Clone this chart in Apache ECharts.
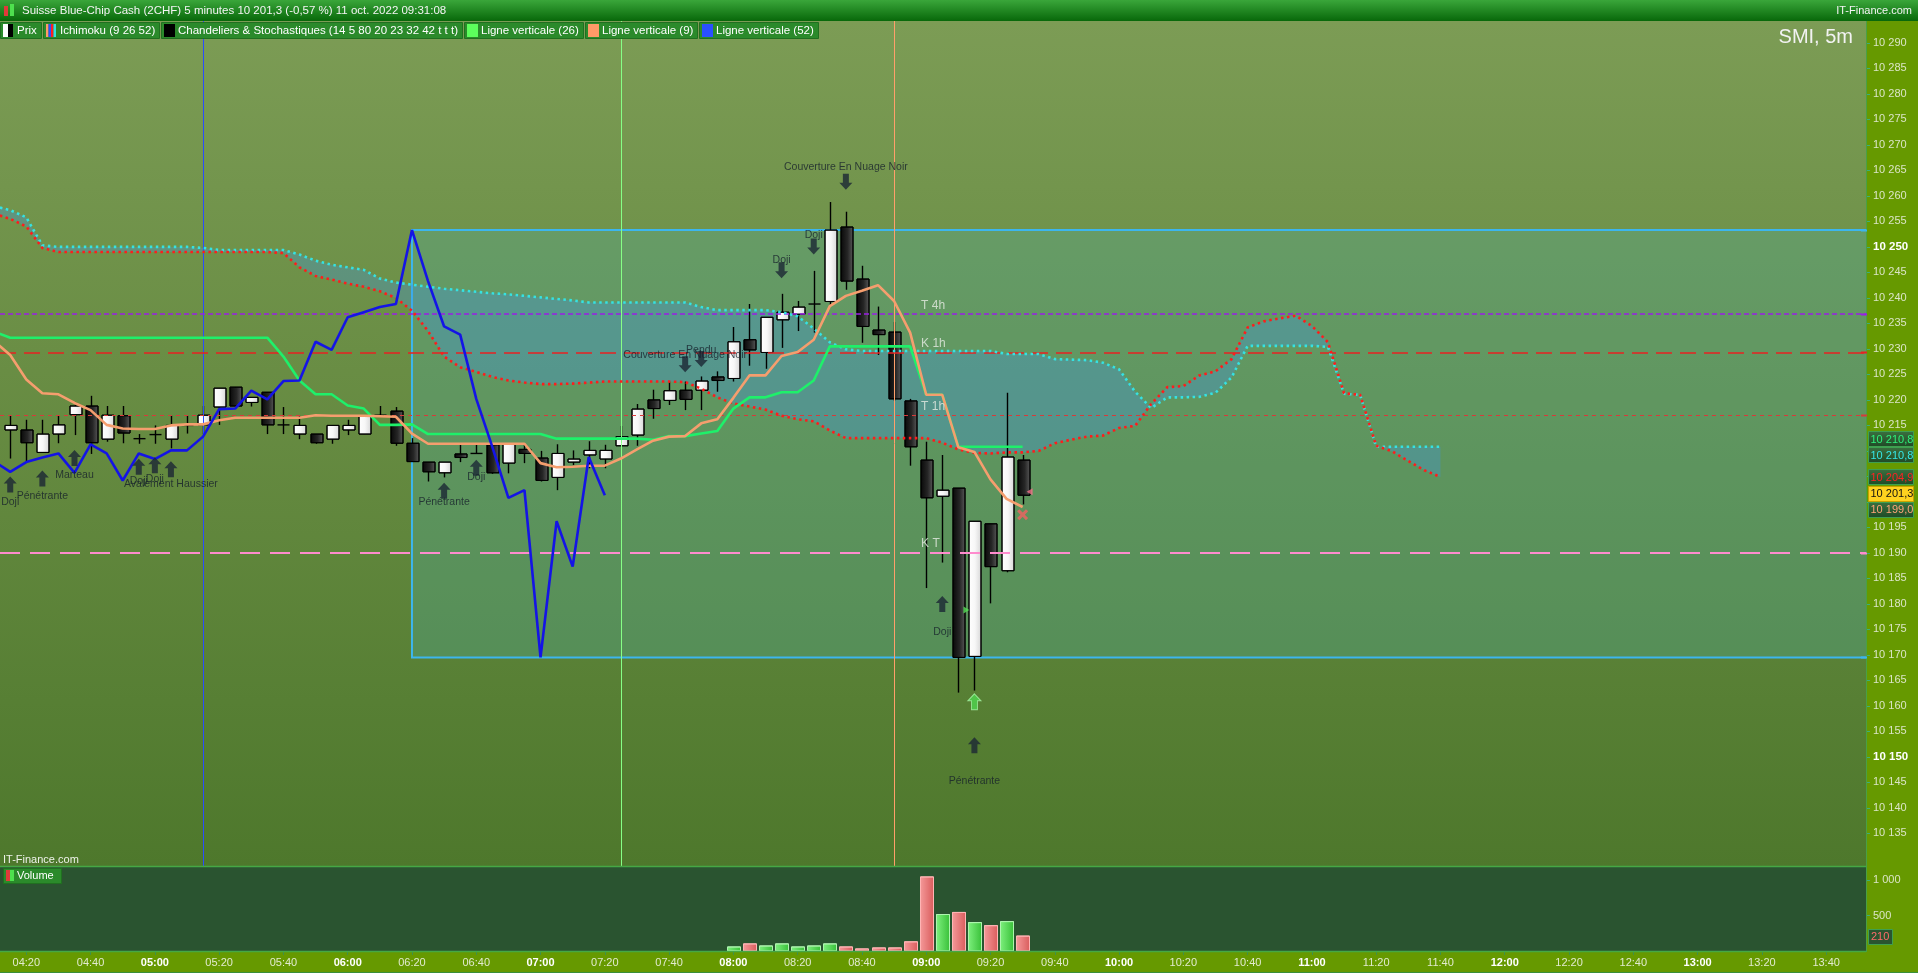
<!DOCTYPE html>
<html><head><meta charset="utf-8">
<script src="https://cdn.jsdelivr.net/npm/echarts@6/dist/echarts.min.js"></script>
<style>html,body{margin:0;padding:0;background:#669900;overflow:hidden}#c{width:1918px;height:973px}</style>
</head><body><div id="c"></div><script>
// ---------------- DATA ----------------
const candleStart = "04:15";
const opens = [10214.1,10214.1,10209.7,10213.3,10217.1,10218.8,10212.3,10216.9,10212.4,10213.2,
 10212.3,10215.0,10215.1,10218.6,10222.5,10219.5,10221.5,10215.1,10213.3,10213.3,
 10212.3,10214.1,10213.3,10217.0,10217.8,10211.5,10207.8,10205.7,10209.4,10209.5,
 10211.2,10207.6,10210.3,10208.6,10204.8,10207.8,10209.2,10208.4,10211.0,10213.1,
 10220.0,10219.9,10221.9,10221.9,10224.5,10224.2,10231.8,10229.3,10235.7,10236.8,
 10238.8,10239.3,10253.9,10243.7,10233.7,10233.3,10219.8,10208.2,10201.1,10202.7,
 10169.7,10195.7,10186.5,10208.2];
const highs = [10216.9,10216.1,10216.1,10216.9,10219.5,10220.8,10218.8,10218.8,10213.3,10215.0,
 10216.9,10216.9,10218.8,10222.3,10222.5,10220.5,10221.5,10218.6,10216.9,10213.3,
 10215.0,10216.1,10216.9,10218.8,10218.6,10212.5,10207.8,10207.8,10211.2,10211.2,
 10211.2,10211.3,10211.2,10210.0,10211.3,10210.1,10211.9,10211.2,10214.9,10219.2,
 10222.0,10223.6,10223.6,10224.6,10225.6,10234.3,10238.8,10236.2,10240.8,10239.4,
 10245.3,10258.8,10256.9,10246.3,10238.3,10235.3,10220.2,10211.8,10209.2,10202.7,
 10196.2,10195.7,10221.4,10209.2];
const lows = [10208.5,10207.9,10209.7,10211.5,10213.1,10209.4,10211.8,10211.5,10211.4,10211.4,
 10210.5,10213.4,10213.3,10215.1,10218.8,10218.7,10213.3,10213.3,10212.3,10211.4,
 10211.4,10213.1,10213.3,10216.9,10211.0,10207.9,10204.0,10204.8,10207.8,10209.4,
 10205.5,10205.6,10207.6,10204.0,10202.3,10207.2,10206.6,10206.6,10211.0,10211.0,
 10216.3,10219.0,10218.0,10218.0,10221.6,10223.6,10226.7,10226.1,10230.2,10233.5,
 10233.2,10238.6,10241.6,10231.2,10228.8,10219.8,10207.1,10183.1,10188.1,10162.6,
 10163.0,10180.1,10186.2,10199.5];
const closes = [10215.0,10211.6,10213.3,10215.1,10218.8,10211.6,10217.0,10213.5,10212.4,10213.2,
 10215.0,10215.0,10217.0,10222.3,10218.8,10220.5,10215.1,10215.1,10215.0,10211.6,
 10215.0,10215.0,10216.9,10217.0,10211.5,10207.9,10205.9,10207.8,10208.7,10209.5,
 10205.7,10211.3,10209.5,10204.2,10209.5,10208.4,10210.1,10210.1,10212.8,10218.2,
 10218.3,10221.8,10220.1,10223.7,10223.8,10231.4,10229.8,10236.2,10237.2,10238.2,
 10238.8,10253.3,10243.3,10234.4,10232.8,10220.2,10210.8,10200.8,10202.3,10169.5,
 10196.2,10187.3,10208.8,10201.3];

const volumeStart = "08:00";
const volumes = [57,100,71,100,57,71,100,57,29,43,43,129,1043,514,543,400,357,414,210];

const lineStart = "04:10";
const tenkan = [10231.5,10228.8,10224.0,10221.3,10221.1,10219.4,10218.0,10215.1,10214.4,10214.3,
 10214.3,10215.0,10215.2,10215.2,10216.0,10216.5,10216.5,10216.5,10216.5,10216.5,
 10217.0,10216.9,10216.9,10216.9,10216.8,10216.7,10213.4,10211.4,10211.4,10211.4,
 10211.4,10211.4,10211.4,10211.4,10207.6,10206.8,10206.9,10207.1,10207.1,10208.5,
 10210.3,10212.0,10212.8,10212.9,10215.4,10216.2,10220.4,10224.8,10224.8,10228.6,
 10229.4,10231.8,10238.4,10240.4,10241.4,10242.5,10239.4,10233.2,10221.0,10221.0,
 10210.7,10209.8,10204.4,10200.6,10199.0];
const kijun = [10233.4,10232.2,10232.2,10232.2,10232.2,10232.2,10232.2,10232.2,10232.2,10232.2,
 10232.2,10232.2,10232.2,10232.2,10232.2,10232.2,10232.2,10232.2,10228.5,10223.8,
 10221.1,10221.1,10218.9,10218.3,10215.1,10215.1,10215.2,10213.3,10213.3,10213.3,
 10213.3,10213.3,10213.3,10213.3,10213.3,10212.4,10212.4,10212.4,10212.4,10212.4,
 10212.4,10212.2,10212.9,10212.9,10213.4,10213.9,10218.3,10220.5,10220.5,10221.5,
 10221.5,10223.8,10230.5,10230.5,10230.5,10230.5,10230.5,10230.5,10221.0,10221.0,
 10210.8,10210.8,10210.8,10210.8,10210.8];
const chikou = [10207.9,10205.9,10207.8,10208.7,10209.5,10205.7,10211.3,10209.5,10204.2,10209.5,
 10208.4,10210.1,10210.1,10212.8,10218.2,10218.3,10221.8,10220.1,10223.7,10223.8,
 10231.4,10229.8,10236.2,10237.2,10238.2,10238.8,10253.3,10243.3,10234.4,10232.8,
 10220.2,10210.8,10200.8,10202.3,10169.5,10196.2,10187.3,10208.8,10201.3];
const senkouA = [10256.5,10255.5,10254.0,10249.8,10249.0,10249.0,10249.0,10249.0,10249.0,10249.0,
 10249.0,10249.0,10249.0,10249.0,10249.0,10249.0,10249.0,10249.0,10248.8,10246.0,
 10244.3,10243.6,10242.8,10242.2,10241.3,10240.0,10237.5,10233.5,10228.5,10226.4,
 10225.5,10224.5,10223.8,10223.4,10223.1,10223.1,10223.2,10223.4,10223.6,10223.6,
 10223.6,10223.6,10223.6,10223.5,10222.2,10220.5,10219.3,10218.7,10218.1,10216.9,
 10216.2,10215.8,10214.0,10212.5,10212.5,10212.5,10212.5,10212.5,10212.5,10211.6,
 10210.3,10209.6,10209.5,10209.7,10209.7,10210.0,10211.5,10212.2,10212.8,10213.0,
 10214.5,10214.9,10219.2,10222.5,10222.7,10224.8,10225.6,10228.0,10234.2,10235.4,
 10236.0,10236.5,10234.5,10231.3,10221.3,10221.0,10211.0,10209.9,10208.0,10206.2,
 10204.9];
const senkouB = [10258.0,10257.2,10255.8,10250.3,10250.0,10250.0,10250.0,10250.0,10250.0,10250.0,
 10250.0,10250.0,10250.0,10249.8,10249.4,10249.4,10249.4,10249.4,10249.4,10248.5,
 10247.3,10246.5,10246.0,10245.5,10243.8,10243.0,10242.6,10242.2,10241.8,10241.5,
 10241.2,10240.9,10240.7,10240.4,10240.1,10239.8,10239.5,10239.1,10239.1,10239.1,
 10239.1,10239.1,10239.1,10239.1,10238.2,10237.6,10237.6,10237.6,10237.6,10237.2,
 10236.4,10234.0,10231.3,10229.9,10229.6,10229.6,10229.6,10229.6,10229.6,10229.6,
 10229.6,10229.6,10229.6,10229.0,10229.0,10229.0,10228.0,10227.9,10227.8,10227.3,
 10226.0,10221.6,10218.4,10220.5,10220.5,10220.6,10221.4,10224.4,10230.6,10230.6,
 10230.6,10230.6,10230.6,10230.4,10221.2,10221.0,10210.8,10210.8,10210.8,10210.8,
 10210.8];

const timeTicks = ["04:20","04:40","05:00","05:20","05:40","06:00","06:20","06:40","07:00","07:20",
 "07:40","08:00","08:20","08:40","09:00","09:20","09:40","10:00","10:20","10:40","11:00","11:20",
 "11:40","12:00","12:20","12:40","13:00","13:20","13:40"];
const priceTicks = [10135,10140,10145,10150,10155,10160,10165,10170,10175,10180,10185,10190,10195,
 10200,10205,10210,10215,10220,10225,10230,10235,10240,10245,10250,10255,10260,10265,10270,10275,
 10280,10285,10290];
const volumeTicks = [500, 1000];

const verticalLines = [{time:"05:15", color:"#2a4cff"}, {time:"07:25", color:"#86ff86"}, {time:"08:50", color:"#ff9f6a"}];
const levelValues = [10236.8, 10229.3, 10217.0, 10190.0];
const levelNames = ["T 4h", "K 1h", "T 1h", "K T"];
const boxStart = "06:20", boxTop = 10253.3, boxBottom = 10169.5;

const patterns = [
 {time:"04:15", dir:"up", arrow:10203.4, text:"Doji", textAt:10200.0},
 {time:"04:25", dir:"up", arrow:10204.6, text:"Pénétrante", textAt:10201.2},
 {time:"04:35", dir:"up", arrow:10208.6, text:"Marteau", textAt:10205.3},
 {time:"04:55", dir:"up", arrow:10206.9, text:"Doji", textAt:10204.1},
 {time:"05:00", dir:"up", arrow:10207.2, text:"Doji", textAt:10204.5},
 {time:"05:05", dir:"up", arrow:10206.4, text:"Avalement Haussier", textAt:10203.5},
 {time:"06:30", dir:"up", arrow:10202.2, text:"Pénétrante", textAt:10200.0},
 {time:"06:40", dir:"up", arrow:10206.7, text:"Doji", textAt:10204.9},
 {time:"07:45", dir:"down", arrow:10227.0, text:"Couverture En Nuage Noir", textAt:10228.7},
 {time:"07:50", dir:"down", arrow:10228.0, text:"Pendu", textAt:10229.8},
 {time:"08:15", dir:"down", arrow:10245.4, text:"Doji", textAt:10247.5},
 {time:"08:25", dir:"down", arrow:10250.1, text:"Doji", textAt:10252.4},
 {time:"08:35", dir:"down", arrow:10262.8, text:"Couverture En Nuage Noir", textAt:10265.7},
 {time:"09:05", dir:"up", arrow:10180.0, text:"Doji", textAt:10174.5},
 {time:"09:15", dir:"up", arrow:10152.3, text:"Pénétrante", textAt:10145.2}
];
const greenArrow = {time:"09:15", price:10160.8};
const crossSignal = {time:"09:30", price:10197.5};
const triLeft = {time:"09:30", price:10202.0};
const triRight = {time:"09:15", price:10178.8};

// ---------------- HELPERS ----------------
const toMin = s => { const [h, m] = s.split(":").map(Number); return h * 60 + m; };
const seq = (start, n) => { const a = []; const s = toMin(start); for (let k = 0; k < n; k++) a.push(s + 5 * k); return a; };
const pad = n => (n < 10 ? "0" : "") + n;
const fmtTime = v => pad(Math.floor(v / 60)) + ":" + pad(Math.round(v % 60));
const fmtInt = v => { const s = String(Math.round(v)); return s.length > 3 ? s.slice(0, s.length - 3) + " " + s.slice(-3) : s; };
const fmtDec = v => { const s = v.toFixed(1).replace(".", ","); const [a, b] = s.split(","); return fmtInt(Number(a)) + "," + b; };

const T0 = 251.82, T1 = 832.4;           // visible time range (minutes)
const PMIN = 10128.6, PMAX = 10294.3;    // visible price range
const VMAX = 1197;
const F = '"Liberation Sans", Arial, sans-serif';

const cT = seq(candleStart, opens.length);
const vT = seq(volumeStart, volumes.length);
const lT = seq(lineStart, tenkan.length);
const chT = seq(lineStart, chikou.length);
const clT = seq(lineStart, senkouA.length);

const candleData = cT.map((t, k) => [t, opens[k], closes[k], lows[k], highs[k]]);
const volData = vT.map((t, k) => {
  const ci = cT.indexOf(t);
  return [t, volumes[k], closes[ci] >= opens[ci] ? 1 : 0];
});

const G = echarts.graphic;
const blackGrad = () => new G.LinearGradient(0, 0, 1, 0, [{offset:0,color:'#080808'},{offset:0.55,color:'#262626'},{offset:1,color:'#5a5a5a'}]);
const whiteGrad = () => new G.LinearGradient(0, 0, 1, 0, [{offset:0,color:'#ffffff'},{offset:0.5,color:'#f7f7f7'},{offset:1,color:'#d6d6d6'}]);

const upArrow = 'path://M6.5,0 L13,7 L9.5,7 L9.5,16 L3.5,16 L3.5,7 L0,7 Z';
const downArrow = 'path://M3.5,0 L9.5,0 L9.5,9 L13,9 L6.5,16 L0,9 L3.5,9 Z';
const xPath = 'path://M0,2 L2,0 L5,3 L8,0 L10,2 L7,5 L10,8 L8,10 L5,7 L2,10 L0,8 L3,5 Z';

// ---------------- CHART ----------------
const chart = echarts.init(document.getElementById('c'), null, {renderer:'canvas', width:1918, height:973});

const option = {
  animation: false,
  backgroundColor: '#669900',
  grid: [
    {left: 0, right: 52, top: 21, bottom: 107, containLabel: false},
    {left: 0, right: 52, top: 866, bottom: 22, containLabel: false}
  ],
  xAxis: [
    {type:'value', gridIndex:0, min:T0, max:T1, show:false},
    {type:'value', gridIndex:1, min:T0, max:T1, position:'bottom',
      axisLine:{show:false}, splitLine:{show:false},
      axisTick:{show:true, customValues: timeTicks.map(toMin), length:4, lineStyle:{color:'#3f8f4a', width:1}},
      axisLabel:{customValues: timeTicks.map(toMin), margin:6,
        formatter: v => (v % 60 === 0 ? '{b|' : '{n|') + fmtTime(v) + '}',
        rich:{n:{color:'#e2ebcf', fontSize:11, fontFamily:F}, b:{color:'#ffffff', fontSize:11, fontWeight:'bold', fontFamily:F}}}}
  ],
  yAxis: [
    {type:'value', gridIndex:0, min:PMIN, max:PMAX, position:'right',
      axisLine:{show:false}, splitLine:{show:false},
      axisTick:{show:true, customValues: priceTicks, length:4, lineStyle:{color:'#3fae7a'}},
      axisLabel:{customValues: priceTicks, margin:7,
        formatter: v => (v % 100 === 50 ? '{b|' : '{n|') + fmtInt(v) + '}',
        rich:{n:{color:'#dbe5c6', fontSize:11, fontFamily:F}, b:{color:'#ffffff', fontSize:11.5, fontWeight:'bold', fontFamily:F}}}},
    {type:'value', gridIndex:1, min:0, max:VMAX, position:'right',
      axisLine:{show:false}, splitLine:{show:false},
      axisTick:{show:true, customValues: volumeTicks, length:4, lineStyle:{color:'#3fae7a'}},
      axisLabel:{customValues: volumeTicks, margin:7, color:'#dbe5c6', fontSize:11, fontFamily:F, formatter: v => fmtInt(v)}}
  ],
  series: [
    {type:'custom', name:'zone', xAxisIndex:0, yAxisIndex:0, z:1, clip:true, silent:true,
      data:[[toMin(boxStart), boxTop]],
      renderItem: (p, api) => {
        const a = api.coord([toMin(boxStart), boxTop]);
        const b = api.coord([T1 + 20, boxBottom]);
        return {type:'group', children:[
          {type:'rect', shape:{x:a[0], y:a[1], width:b[0]-a[0], height:b[1]-a[1]}, style:{fill:'rgba(80,175,165,0.30)'}},
          {type:'polyline', shape:{points:[[b[0], a[1]], [a[0], a[1]], [a[0], b[1]], [b[0], b[1]]]}, style:{stroke:'#3cb6ee', lineWidth:2, fill:null}}
        ]};
      }},
    {type:'custom', name:'cloud', xAxisIndex:0, yAxisIndex:0, z:2, clip:true, silent:true,
      data:[[clT[0], senkouA[0]]],
      renderItem: (p, api) => {
        const pts = [];
        for (let k = 0; k < clT.length; k++) pts.push(api.coord([clT[k], senkouA[k]]));
        for (let k = clT.length - 1; k >= 0; k--) pts.push(api.coord([clT[k], senkouB[k]]));
        return {type:'polygon', shape:{points:pts}, style:{fill:'rgba(62,150,232,0.32)'}};
      }},
    {type:'line', name:'vlines', xAxisIndex:0, yAxisIndex:0, z:3, data:[], silent:true,
      markLine:{silent:true, symbol:['none','none'], label:{show:false}, animation:false,
        data: verticalLines.map(v => ({xAxis: toMin(v.time), lineStyle:{color:v.color, width:1, type:'solid'}}))}},
    {type:'custom', name:'Prix', xAxisIndex:0, yAxisIndex:0, z:4, clip:true,
      data: candleData, encode:{x:0, y:[1,2,3,4]},
      renderItem: (p, api) => {
        const t = api.value(0), o = api.value(1), c = api.value(2), l = api.value(3), h = api.value(4);
        const pO = api.coord([t, o]), pC = api.coord([t, c]), pH = api.coord([t, h]), pL = api.coord([t, l]);
        const x = Math.round(pO[0]) + 0.5, w = 12;
        const top = Math.min(pO[1], pC[1]), bot = Math.max(pO[1], pC[1]);
        const ch = [{type:'line', shape:{x1:x, y1:pH[1], x2:x, y2:pL[1]}, style:{stroke:'#000', lineWidth:1.4}}];
        if (bot - top < 1.5) ch.push({type:'line', shape:{x1:x-w/2, y1:top, x2:x+w/2, y2:top}, style:{stroke:'#000', lineWidth:1.4}});
        else ch.push({type:'rect', shape:{x:Math.round(x-w/2), y:top, width:w, height:bot-top},
          style:{fill: c >= o ? whiteGrad() : blackGrad(), stroke:'#000', lineWidth:1}});
        return {type:'group', children:ch};
      }},
    {type:'line', name:'SSB', xAxisIndex:0, yAxisIndex:0, z:5, symbol:'none', clip:true,
      data: clT.map((t,k)=>[t, senkouB[k]]), lineStyle:{color:'#35e2e2', width:2.6, type:[2.5,3.5], cap:'butt'}},
    {type:'line', name:'SSA', xAxisIndex:0, yAxisIndex:0, z:5, symbol:'none', clip:true,
      data: clT.map((t,k)=>[t, senkouA[k]]), lineStyle:{color:'#ff1c1c', width:2.6, type:[2.5,3.5], cap:'butt'}},
    {type:'line', name:'Kijun', xAxisIndex:0, yAxisIndex:0, z:5, symbol:'none', clip:true,
      data: lT.map((t,k)=>[t, kijun[k]]), lineStyle:{color:'#1ef06a', width:2.6}},
    {type:'line', name:'Tenkan', xAxisIndex:0, yAxisIndex:0, z:5, symbol:'none', clip:true,
      data: lT.map((t,k)=>[t, tenkan[k]]), lineStyle:{color:'#f59e6e', width:2.6}},
    {type:'line', name:'Chikou', xAxisIndex:0, yAxisIndex:0, z:5, symbol:'none', clip:true,
      data: chT.map((t,k)=>[t, chikou[k]]), lineStyle:{color:'#1414e6', width:2.6}},
    {type:'line', name:'levels', xAxisIndex:0, yAxisIndex:0, z:6, data:[], silent:true,
      markLine:{silent:true, symbol:['none','none'], label:{show:false}, animation:false,
        data:[
          {yAxis: levelValues[0], lineStyle:{color:'#9a1ee6', width:1.5, type:[5,3]}},
          {yAxis: levelValues[1], lineStyle:{color:'#e82222', width:1.5, type:[16,8]}},
          {yAxis: levelValues[2], lineStyle:{color:'#d83a3a', width:1, type:[4,4]}},
          {yAxis: levelValues[3], lineStyle:{color:'#ff8cce', width:2, type:[20,10]}}
        ]}},
    {type:'scatter', name:'levelNames', xAxisIndex:0, yAxisIndex:0, z:7, symbolSize:0, silent:true,
      data: levelValues.map((v,k)=>({name:levelNames[k], value:[toMin("08:58")+0.4, v]})),
      label:{show:true, position:[0,0], align:'left', verticalAlign:'middle', offset:[0,-9],
        formatter: p => p.name, color:'#e6ebe4', fontSize:12, fontFamily:F}},
    {type:'scatter', name:'arrows', xAxisIndex:0, yAxisIndex:0, z:8, silent:true, symbolKeepAspect:false,
      data: patterns.map(p=>({value:[toMin(p.time), p.arrow], symbol: p.dir==='up'?upArrow:downArrow}))
        .concat([{value:[toMin(greenArrow.time), greenArrow.price], symbol:upArrow, itemStyle:{color:'#4fd64f', borderColor:'#a8f5a8', borderWidth:1}}]),
      symbolSize:[13,16], itemStyle:{color:'#1b2735'}},
    {type:'scatter', name:'patternText', xAxisIndex:0, yAxisIndex:0, z:8, silent:true, symbolSize:0,
      data: patterns.map(p=>({name:p.text, value:[toMin(p.time), p.textAt]})),
      label:{show:true, position:[0,0], align:'center', verticalAlign:'middle', formatter:p=>p.name,
        color:'#16202c', fontSize:10.5, fontFamily:F}},
    {type:'scatter', name:'signals', xAxisIndex:0, yAxisIndex:0, z:8, silent:true,
      data:[
        {value:[toMin(crossSignal.time), crossSignal.price], symbol:xPath, symbolSize:11, itemStyle:{color:'#f36262'}},
        {value:[toMin(triLeft.time), triLeft.price], symbol:'triangle', symbolRotate:90, symbolSize:[7,6], symbolOffset:[7,0], itemStyle:{color:'#f27088'}},
        {value:[toMin(triRight.time), triRight.price], symbol:'triangle', symbolRotate:-90, symbolSize:[7,6], symbolOffset:[-8,0], itemStyle:{color:'#55e055'}}
      ]},
    {type:'custom', name:'Volume', xAxisIndex:1, yAxisIndex:1, z:4, clip:true,
      data: volData, encode:{x:0, y:1},
      renderItem: (p, api) => {
        const t = api.value(0), v = api.value(1), up = api.value(2);
        const a = api.coord([t, v]), b = api.coord([t, 0]);
        const w = 13;
        const fill = up ? new G.LinearGradient(0,0,1,0,[{offset:0,color:'#7ef07e'},{offset:1,color:'#38c038'}])
                        : new G.LinearGradient(0,0,1,0,[{offset:0,color:'#f59a9a'},{offset:1,color:'#d95c5c'}]);
        return {type:'rect', shape:{x:Math.round(a[0]-w/2)+0.5, y:a[1], width:w, height:b[1]-a[1]},
          style:{fill, stroke: up ? '#aef5ae' : '#ffb4b4', lineWidth:1}};
      }}
  ]
};
chart.setOption(option);

// ---------------- OVERLAY GRAPHICS ----------------
const ctx = document.createElement('canvas').getContext('2d');
const tw = (s, size) => { ctx.font = size + 'px ' + F; return ctx.measureText(s).width; };

const els = [];
els.push({type:'rect', z:-100, shape:{x:0, y:21, width:1866, height:845},
  style:{fill:new G.LinearGradient(0,0,0,1,[{offset:0,color:'#7c9c55'},{offset:1,color:'#4e782c'}])}});
els.push({type:'rect', z:-100, shape:{x:0, y:866, width:1866, height:85}, style:{fill:'#2a5430'}});
els.push({type:'line', z:50, shape:{x1:0, y1:866.5, x2:1866, y2:866.5}, style:{stroke:'#45a845', lineWidth:1.5}});
els.push({type:'line', z:50, shape:{x1:0, y1:951.5, x2:1866, y2:951.5}, style:{stroke:'#45a845', lineWidth:1.5}});
els.push({type:'line', z:50, shape:{x1:1866.5, y1:21, x2:1866.5, y2:952}, style:{stroke:'#4a9f45', lineWidth:1}});
els.push({type:'line', z:50, shape:{x1:0, y1:972.5, x2:1918, y2:972.5}, style:{stroke:'#3a8f3a', lineWidth:1}});
els.push({type:'rect', z:100, shape:{x:0, y:0, width:1918, height:21},
  style:{fill:new G.LinearGradient(0,0,0,1,[{offset:0,color:'#3aa63a'},{offset:1,color:'#08680a'}])}});
els.push({type:'rect', z:101, shape:{x:4, y:6, width:4, height:10}, style:{fill:'#e03a3a'}});
els.push({type:'rect', z:101, shape:{x:10, y:4, width:4, height:12}, style:{fill:'#4ee04e'}});
els.push({type:'text', z:101, style:{x:22, y:11, text:'Suisse Blue-Chip Cash (2CHF) 5 minutes 10 201,3 (-0,57 %) 11 oct. 2022 09:31:08',
  fill:'#f4f4f4', font:'11.5px ' + F, verticalAlign:'middle'}});
els.push({type:'text', z:101, style:{x:1912, y:11, text:'IT-Finance.com', fill:'#f4f4f4', font:'11px ' + F, align:'right', verticalAlign:'middle'}});
const legendItems = [
  {text:'Prix', icon:'prix'},
  {text:'Ichimoku (9 26 52)', icon:'ichi'},
  {text:'Chandeliers & Stochastiques (14 5 80 20 23 32 42 t t t)', icon:'#000000'},
  {text:'Ligne verticale (26)', icon:'#5cff5c'},
  {text:'Ligne verticale (9)', icon:'#ff9a68'},
  {text:'Ligne verticale (52)', icon:'#2a50ff'}
];
let lx = 0;
legendItems.forEach(it => {
  const w = Math.round(17 + tw(it.text, 11.5) + 4);
  els.push({type:'rect', z:100, shape:{x:lx+0.5, y:22.5, width:w, height:16}, style:{fill:'#2b8a2b', stroke:'#207020', lineWidth:1}});
  if (it.icon === 'prix') {
    els.push({type:'rect', z:101, shape:{x:lx+3, y:24, width:5, height:13}, style:{fill:'#ffffff'}});
    els.push({type:'rect', z:101, shape:{x:lx+8, y:24, width:5, height:13}, style:{fill:'#000000'}});
  } else if (it.icon === 'ichi') {
    ['#ff9a68','#2a50ff','#ff2020','#30e0e0'].forEach((c, k) => els.push({type:'rect', z:101, shape:{x:lx+3+k*2.5, y:24, width:2.5, height:13}, style:{fill:c}}));
  } else {
    els.push({type:'rect', z:101, shape:{x:lx+3, y:24, width:11, height:13}, style:{fill:it.icon}});
  }
  els.push({type:'text', z:101, style:{x:lx+17, y:31, text:it.text, fill:'#ffffff', font:'11.5px ' + F, verticalAlign:'middle'}});
  lx += w + 2;
});
els.push({type:'text', z:101, style:{x:1853, y:37, text:'SMI, 5m', fill:'#f2f2f2', font:'20px ' + F, align:'right', verticalAlign:'middle'}});
els.push({type:'text', z:101, style:{x:3, y:860, text:'IT-Finance.com', fill:'#eef2ea', font:'11px ' + F, verticalAlign:'middle'}});
els.push({type:'rect', z:100, shape:{x:3.5, y:868.5, width:58, height:15}, style:{fill:'#2b8a2b', stroke:'#207020', lineWidth:1}});
els.push({type:'rect', z:101, shape:{x:6, y:870, width:4, height:11}, style:{fill:'#e03a3a'}});
els.push({type:'rect', z:101, shape:{x:10, y:870, width:4, height:11}, style:{fill:'#4ee04e'}});
els.push({type:'text', z:101, style:{x:17, y:876, text:'Volume', fill:'#ffffff', font:'11px ' + F, verticalAlign:'middle'}});

const py = v => chart.convertToPixel({yAxisIndex:0}, v);
const boxes = [
  {v:kijun[kijun.length-1], color:'#2ef07a'},
  {v:senkouB[senkouB.length-1], color:'#35e6e6'},
  {v:senkouA[senkouA.length-1], color:'#ff2222'},
  {v:closes[closes.length-1], color:'#111111', bg:'#ffd21f'},
  {v:tenkan[tenkan.length-1], color:'#ffa478'}
];
boxes.forEach(b => { b.y0 = py(b.v); b.y = b.y0; });
let clusters = boxes.map(b => [b]);
let changed = true;
const place = cl => { const m = cl.reduce((s,b)=>s+b.y0,0)/cl.length; const start = m - (cl.length-1)*8; cl.forEach((b,k)=>b.y = start + k*16); };
clusters.forEach(place);
while (changed) {
  changed = false;
  for (let k = 1; k < clusters.length; k++) {
    const prev = clusters[k-1], cur = clusters[k];
    if (cur[0].y < prev[prev.length-1].y + 16) { clusters.splice(k-1, 2, prev.concat(cur)); place(clusters[k-1]); changed = true; break; }
  }
}
boxes.forEach(b => {
  els.push({type:'rect', z:100, shape:{x:1868.5, y:Math.round(b.y-7.5)+0.5, width:45, height:15},
    style:{fill: b.bg || new G.LinearGradient(0,0,0,1,[{offset:0,color:'#3a7040'},{offset:1,color:'#1f4a26'}]), stroke: b.bg ? '#c9a000' : '#3fa050', lineWidth:1}});
  els.push({type:'text', z:101, style:{x:1870.5, y:Math.round(b.y)+0.5, text:fmtDec(b.v), fill:b.color, font:'11px ' + F, verticalAlign:'middle'}});
});
const vy = chart.convertToPixel({yAxisIndex:1}, volumes[volumes.length-1]);
els.push({type:'rect', z:100, shape:{x:1868.5, y:Math.round(vy-7.5)+0.5, width:24, height:15}, style:{fill:'#2a5430', stroke:'#3fa050', lineWidth:1}});
els.push({type:'text', z:101, style:{x:1871, y:Math.round(vy)+0.5, text:String(volumes[volumes.length-1]), fill:'#ff6a6a', font:'11px ' + F, verticalAlign:'middle'}});
[[boxTop,'#3cb6ee'],[levelValues[0],'#9a1ee6'],[levelValues[1],'#e82222'],[levelValues[2],'#d83a3a'],[levelValues[3],'#ff8cce'],[boxBottom,'#3cb6ee']].forEach(([v,c]) => {
  const y = Math.round(py(v)) + 0.5;
  els.push({type:'line', z:60, shape:{x1:1861, y1:y, x2:1867, y2:y}, style:{stroke:c, lineWidth:2}});
});

chart.setOption({graphic:{elements:els}});
</script></body></html>
